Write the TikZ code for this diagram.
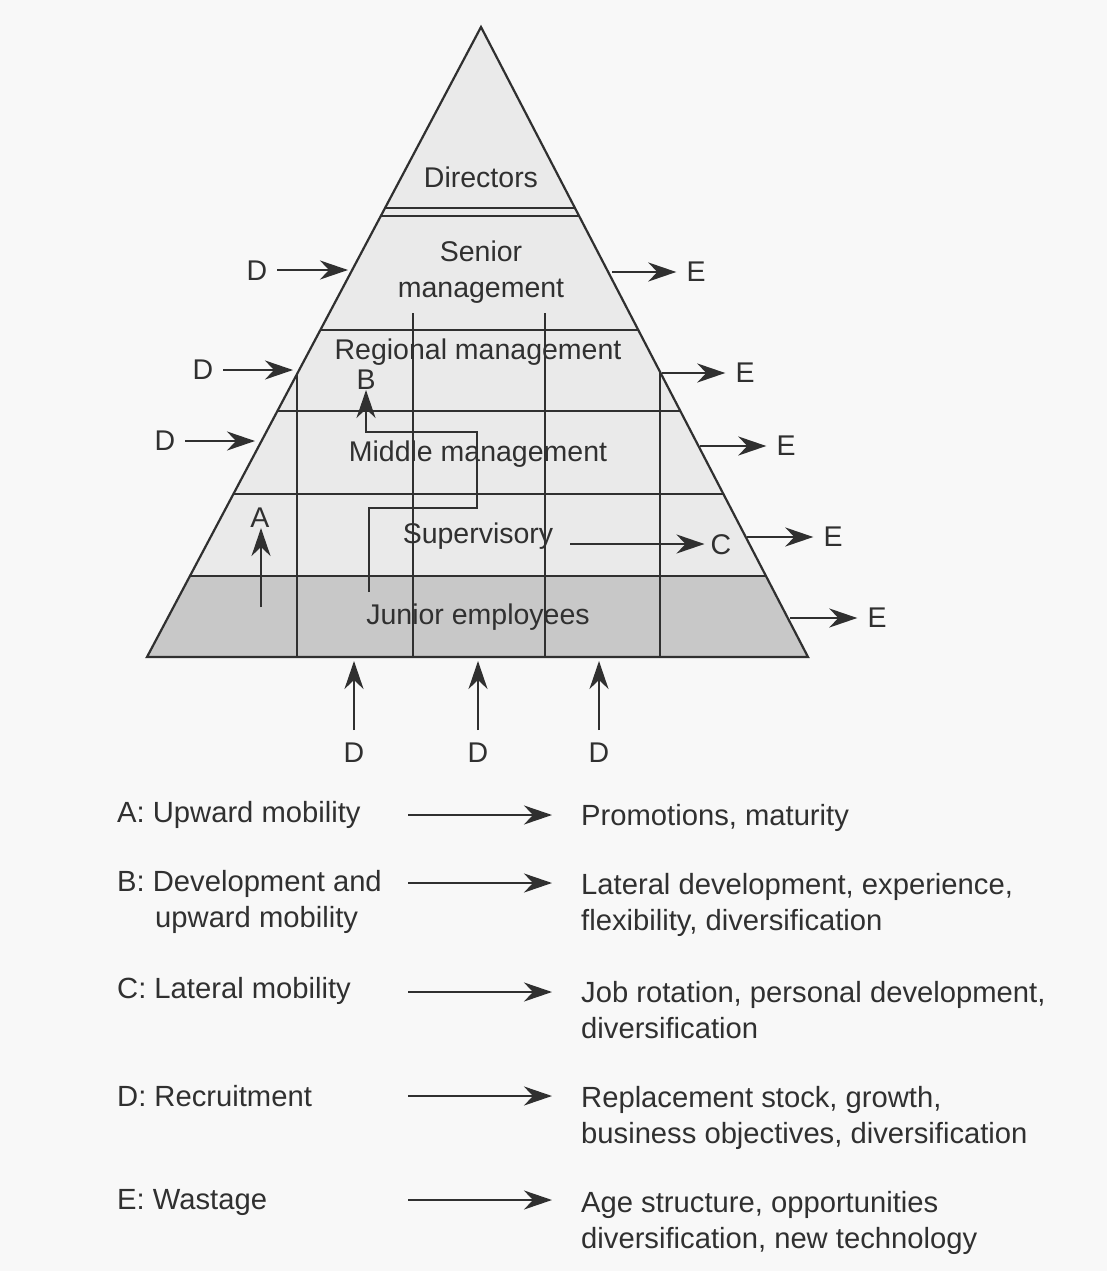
\documentclass[tikz,border=0pt]{standalone}
\usepackage{fontspec}
\setmainfont{Liberation Sans}
\usetikzlibrary{arrows.meta,calc}
\definecolor{ink}{HTML}{303030}
\definecolor{paper}{HTML}{F8F8F8}
\definecolor{tierfill}{HTML}{EAEAEA}
\definecolor{basefill}{HTML}{C8C8C8}
\begin{document}
\begin{tikzpicture}[x=1pt,y=-1pt,
  txt/.style={inner sep=0pt,font=\fontsize{28.5}{34}\selectfont,text=ink},
  lbl/.style={inner sep=0pt,font=\fontsize{29.2}{36}\selectfont,text=ink,align=left,anchor=west},
  rule/.style={draw=ink,line width=1.8pt},
  tip/.style={-{Stealth[length=28pt,width=19pt,inset=9pt]}},
  flow/.style={draw=ink,line width=2.8pt,tip},
  route/.style={draw=ink,line width=2pt,tip}]
% page
\fill[paper] (0,0) rectangle (1107,1271);
\useasboundingbox (0,0) rectangle (1107,1271);

% pyramid corners
\coordinate (apex) at (481,27);
\coordinate (bl) at (147,657);
\coordinate (br) at (808,657);

% tier boundaries on both sides
\foreach \n/\t in {d1/0.2873,d2/0.3,s/0.481,r/0.6095,m/0.7413,j/0.8714}{
  \coordinate (\n L) at ($(apex)!\t!(bl)$);
  \coordinate (\n R) at ($(apex)!\t!(br)$);
}

% fills
\fill[tierfill] (apex) -- (bl) -- (br) -- cycle;
\fill[basefill] (jL) -- (bl) -- (br) -- (jR) -- cycle;

% horizontal tier lines
\foreach \n in {d1,d2,s,r,m,j}{\draw[rule] (\n L) -- (\n R);}

% vertical division lines
\coordinate (vl) at ($(apex)!0.5509!(bl)$);
\coordinate (vr) at ($(apex)!0.5474!(br)$);
\coordinate (v1) at (413,313);
\coordinate (v2) at (545,313);
\draw[rule] (vl) -- (vl |- bl);
\draw[rule] (vr) -- (vr |- br);
\draw[rule] (v1) -- (v1 |- bl);
\draw[rule] (v2) -- (v2 |- bl);

% outline
\draw[rule,line width=2.2pt,line join=miter] (apex) -- (bl) -- (br) -- cycle;

% tier names
\node[txt] (dir) at (481,177) {Directors};
\node[txt,align=center] (sen) at (481,272) {Senior\\[2pt]management};
\node[txt] (reg) at (478,352) {Regional management};
\node[txt] (mid) at (478,454) {Middle management};
\node[txt] (sup) at (478,536) {Supervisory};
\node[txt] (jun) at (478,617) {Junior employees};

% A: upward mobility
\node[txt] (A) at (260,518) {A};
\coordinate (a0) at (261,607);
\draw[flow] (a0) -- (a0 |- A.south);

% B: development and upward mobility
\node[txt] (B) at (366,380) {B};
\coordinate (b0) at (369,592);
\coordinate (b1) at (477,508);
\coordinate (b2) at (366,432);
\draw[route] (b0) |- (b1) |- (b2) -- (b2 |- B.south);

% C: lateral mobility
\node[txt] (C) at (721,545) {C};
\coordinate (c0) at (570,544);
\draw[flow] (c0) -- ($(c0 -| C.west)+(-6,0)$);

% D: recruitment from the left
\node[txt] (D1) at (257,271) {D};
\node[txt] (D2) at (203,370) {D};
\node[txt] (D3) at (165,441) {D};
\coordinate (d1e) at (348,270);
\coordinate (d2e) at (293,370);
\coordinate (d3e) at (255,441);
\draw[flow] ($(D1.east |- d1e)+(10,0)$) -- (d1e);
\draw[flow] ($(D2.east |- d2e)+(10,0)$) -- (d2e);
\draw[flow] ($(D3.east |- d3e)+(10,0)$) -- (d3e);

% D: recruitment from below
\foreach \i/\x in {4/354,5/478,6/599}{
  \node[txt] (D\i) at (\x,753) {D};
  \coordinate (d\i e) at (\x,661);
  \draw[flow] ($(D\i.north)+(0,-13)$) -- (d\i e);
}

% E: wastage to the right
\foreach \i/\x/\y/\s in {1/696/272/612,2/745/373/662,3/786/446/700,4/833/537/747,5/877/618/790}{
  \node[txt] (E\i) at (\x,\y) {E};
  \coordinate (e\i s) at (\s,\y);
  \draw[flow] (e\i s) -- ($(E\i.west)+(-10,0)$);
}

% key
\node[lbl] (kA) at (117,815) {A: Upward mobility};
\node[lbl,anchor=north west] (kB) at (117,870) {B: Development and\\\hspace*{38pt}upward mobility};
\node[lbl] (kC) at (117,991) {C: Lateral mobility};
\node[lbl] (kD) at (117,1096) {D: Recruitment};
\node[lbl] (kE) at (117,1202) {E: Wastage};

\node[lbl] (rA) at (581,818) {Promotions, maturity};
\node[lbl,anchor=north west] (rB) at (581,873) {Lateral development, experience,\\flexibility, diversification};
\node[lbl,anchor=north west] (rC) at (581,981) {Job rotation, personal development,\\diversification};
\node[lbl,anchor=north west] (rD) at (581,1086) {Replacement stock, growth,\\business objectives, diversification};
\node[lbl,anchor=north west] (rE) at (581,1191) {Age structure, opportunities\\diversification, new technology};

\foreach \y/\r in {815/rA,883/rB,992/rC,1096/rD,1200/rE}{
  \coordinate (ks\r) at (408,\y);
  \coordinate (ke\r) at (552,\y);
  \draw[flow] (ks\r) -- (ke\r);
}
\end{tikzpicture}
\end{document}
